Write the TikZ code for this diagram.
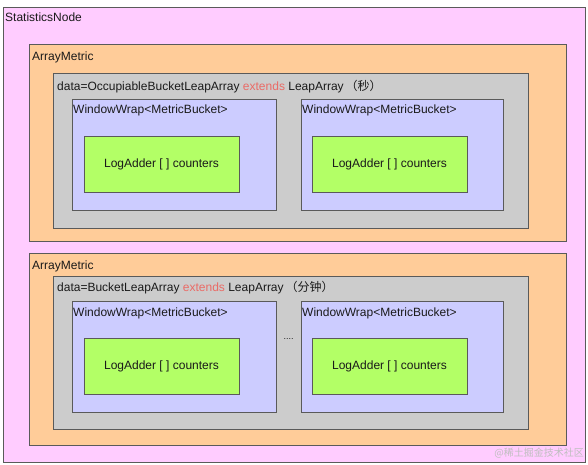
\documentclass[tikz,border=0pt]{standalone}
\usepackage{fontspec}
\setmainfont{Liberation Sans}
\newfontfamily\cjk{Noto Sans CJK SC}
\definecolor{pinkc}{HTML}{FFCCFF}
\definecolor{orangec}{HTML}{FFCC99}
\definecolor{greyc}{HTML}{CCCCCC}
\definecolor{bluec}{HTML}{CCCCFF}
\definecolor{greenc}{HTML}{B3FF66}
\definecolor{edgec}{HTML}{5A5A5A}
\definecolor{redc}{HTML}{EA6B66}
\definecolor{txtc}{HTML}{1A1A1A}
\begin{document}
\begin{tikzpicture}[x=1pt,y=-1pt,
  box/.style={draw=edgec,line width=0.8pt,fill=#1,anchor=north west,inner sep=0pt,outer sep=0pt},
  lbl/.style={anchor=west,inner sep=0pt,font=\fontsize{12}{14}\selectfont,text=txtc,text height=9pt,text depth=2.5pt},
  ctr/.style={inner sep=0pt,font=\fontsize{12}{14}\selectfont,text=txtc,text height=9pt,text depth=2.5pt},
  wm/.style={anchor=east,inner sep=0pt,font=\cjk\fontsize{10}{12}\selectfont,text=black!25}]
\useasboundingbox (0,0) rectangle (588,464);
% outer
\node[box=pinkc,minimum width=582pt,minimum height=455pt] (outer) at (3,7) {};
\node[lbl] (outerl) at (5,18) {StatisticsNode};
% upper ArrayMetric
\node[box=orangec,minimum width=537pt,minimum height=197pt] (am1) at (29,44) {};
\node[lbl] (am1l) at (32,57) {ArrayMetric};
\node[box=greyc,minimum width=475pt,minimum height=155pt] (la1) at (53,73) {};
\node[lbl] (la1l) at (57,87) {data=OccupiableBucketLeapArray \textcolor{redc}{extends} LeapArray\,{\cjk （秒）}};
\node[box=bluec,minimum width=204pt,minimum height=111pt] (ww1) at (72,99) {};
\node[lbl] (ww1l) at (73,110) {WindowWrap<MetricBucket>};
\node[box=bluec,minimum width=202pt,minimum height=111pt] (ww2) at (301,99) {};
\node[lbl] (ww2l) at (302,110) {WindowWrap<MetricBucket>};
\node[box=greenc,minimum width=155pt,minimum height=56pt] (la1g1) at (84,136) {};
\node[ctr] (la1g1t) at (la1g1.center) {LogAdder [ ] counters};
\node[box=greenc,minimum width=155pt,minimum height=56pt] (la1g2) at (312,136) {};
\node[ctr] (la1g2t) at (la1g2.center) {LogAdder [ ] counters};
% lower ArrayMetric
\node[box=orangec,minimum width=537pt,minimum height=192pt] (am2) at (29,253) {};
\node[lbl] (am2l) at (32,266) {ArrayMetric};
\node[box=greyc,minimum width=475pt,minimum height=153pt] (la2) at (53,276) {};
\node[lbl] (la2l) at (57,288) {data=BucketLeapArray \textcolor{redc}{extends} LeapArray\,{\cjk （分钟）}};
\node[box=bluec,minimum width=204pt,minimum height=111pt] (ww3) at (72,301) {};
\node[lbl] (ww3l) at (73,313) {WindowWrap<MetricBucket>};
\node[box=bluec,minimum width=202pt,minimum height=111pt] (ww4) at (301,301) {};
\node[lbl] (ww4l) at (302,313) {WindowWrap<MetricBucket>};
\node[box=greenc,minimum width=155pt,minimum height=56pt] (la2g1) at (84,338) {};
\node[ctr] (la2g1t) at (la2g1.center) {LogAdder [ ] counters};
\node[box=greenc,minimum width=155pt,minimum height=56pt] (la2g2) at (312,338) {};
\node[ctr] (la2g2t) at (la2g2.center) {LogAdder [ ] counters};
\node[ctr,font=\fontsize{9}{10}\selectfont] (dots) at (288.5,336) {....};
% watermark
\node[wm] (wmk) at (584,453) {@稀土掘金技术社区};
\end{tikzpicture}
\end{document}
